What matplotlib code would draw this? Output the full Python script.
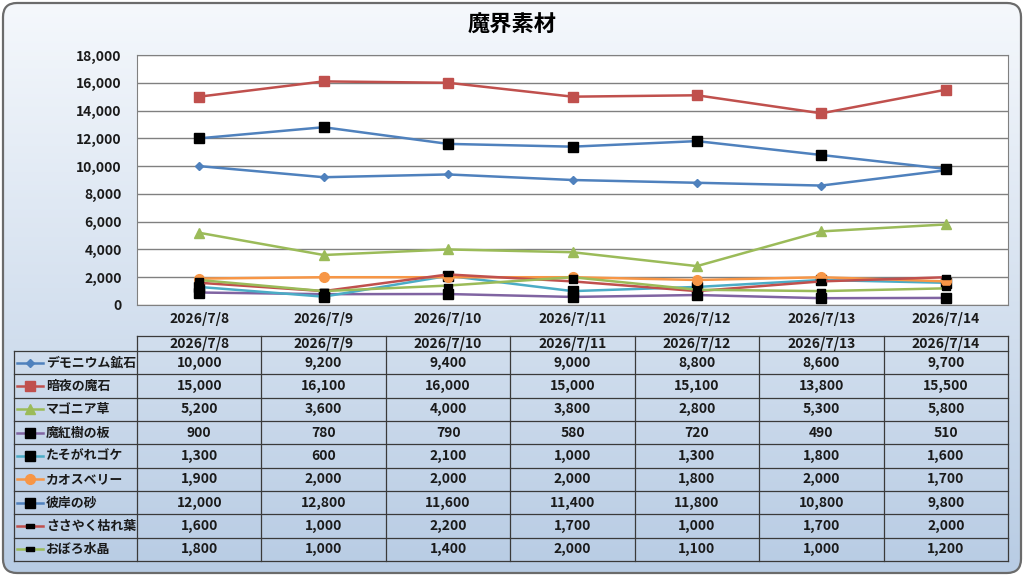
import numpy as np
import matplotlib
matplotlib.use('Agg')
from matplotlib import pyplot as plt
from matplotlib.patches import FancyBboxPatch
from matplotlib.path import Path

plt.rcParams['font.family'] = ['Noto Sans CJK JP', 'DejaVu Sans']

dates = ['2026/7/8', '2026/7/9', '2026/7/10', '2026/7/11', '2026/7/12', '2026/7/13', '2026/7/14']

names = ['デモニウム鉱石', '暗夜の魔石', 'マゴニア草', '魔紅樹の板', 'たそがれゴケ',
         'カオスベリー', '彼岸の砂', 'ささやく枯れ葉', 'おぼろ水晶']

demonium = [10000, 9200, 9400, 9000, 8800, 8600, 9700]
anya = [15000, 16100, 16000, 15000, 15100, 13800, 15500]
magonia = [5200, 3600, 4000, 3800, 2800, 5300, 5800]
makouju = [900, 780, 790, 580, 720, 490, 510]
tasogare = [1300, 600, 2100, 1000, 1300, 1800, 1600]
chaos = [1900, 2000, 2000, 2000, 1800, 2000, 1700]
higan = [12000, 12800, 11600, 11400, 11800, 10800, 9800]
sasayaku = [1600, 1000, 2200, 1700, 1000, 1700, 2000]
oboro = [1800, 1000, 1400, 2000, 1100, 1000, 1200]

series = [demonium, anya, magonia, makouju, tasogare, chaos, higan, sasayaku, oboro]

blue, red, green, purple, cyan, orange = '#4F81BD', '#C0504D', '#9BBB59', '#8064A2', '#4BACC6', '#F79646'
dash = Path([(-1, -0.45), (1, -0.45), (1, 0.45), (-1, 0.45), (-1, -0.45)])
# (line colour, marker, marker face colour, marker size)
styles = [
    (blue, 'D', blue, 4.5),
    (red, 's', red, 6.5),
    (green, '^', green, 7),
    (purple, 's', 'black', 6.5),
    (cyan, 's', 'black', 6.5),
    (orange, 'o', orange, 7),
    (blue, 's', 'black', 6.5),
    (red, dash, 'black', 5.5),
    (green, dash, 'black', 5.5),
]

W, H = 1024, 576
fig = plt.figure(figsize=(W / 100, H / 100), dpi=100)

# background with gradient and rounded frame
bg = fig.add_axes([0, 0, 1, 1], zorder=0)
bg.set_xlim(0, W)
bg.set_ylim(H, 0)
bg.axis('off')
grad = np.linspace(0, 1, 256)[:, None]
top = np.array([245, 248, 252]) / 255
bot = np.array([184, 204, 228]) / 255
img = top + (bot - top) * grad[..., None]
frame = FancyBboxPatch((3, 3), W - 6, H - 6, boxstyle='round,pad=0,rounding_size=14',
                       fc='none', ec='#6b6b6b', lw=1.6, zorder=3)
bg.add_patch(frame)
im = bg.imshow(img, extent=[3, W - 3, H - 3, 3], aspect='auto', zorder=1)
im.set_clip_path(frame)

fig.text(0.5, 1 - 25 / H, '魔界素材', ha='center', va='center', fontsize=16, fontweight='bold')

# chart
left, right, ptop, pbot = 137, 1008, 55, 305
ax = fig.add_axes([left / W, 1 - pbot / H, (right - left) / W, (pbot - ptop) / H], zorder=2)
ax.set_facecolor('white')
x = np.arange(len(dates))
for vals, (lc, mk, mfc, ms) in zip(series, styles):
    ax.plot(x, vals, color=lc, lw=1.8, marker=mk, ms=ms, mfc=mfc, mec=mfc)
ax.set_xlim(-0.5, len(dates) - 0.5)
ax.set_ylim(0, 18000)
ax.set_yticks(np.arange(0, 18001, 2000))
ax.set_yticklabels(['{:,}'.format(v) for v in range(0, 18001, 2000)])
ax.set_xticks(x)
ax.set_xticklabels(dates)
ax.tick_params(length=0, labelsize=10)
ax.tick_params(axis='y', pad=11)
ax.tick_params(axis='x', pad=5)
for t in ax.get_xticklabels() + ax.get_yticklabels():
    t.set_fontweight('bold')
    t.set_color('#1a1a1a')
ax.grid(axis='y', color='#808080', lw=1)
ax.set_axisbelow(True)
for s in ax.spines.values():
    s.set_color('#808080')

# data table
tl, tr = 14, right
hdr_top, row_top, tbot = 336, 351, 561
colw = (right - left) / len(dates)
rowh = (tbot - row_top) / len(names)
lc_tab = '#3a3a3a'
bg.plot([left, tr], [hdr_top, hdr_top], color=lc_tab, lw=0.9, zorder=4)
for i in range(len(dates) + 1):
    xx = left + i * colw
    bg.plot([xx, xx], [hdr_top, tbot], color=lc_tab, lw=0.9, zorder=4)
bg.plot([tl, tl], [row_top, tbot], color=lc_tab, lw=0.9, zorder=4)
for j in range(len(names) + 1):
    yy = row_top + j * rowh
    bg.plot([tl, tr], [yy, yy], color=lc_tab, lw=0.9, zorder=4)
for i, d in enumerate(dates):
    bg.text(left + (i + 0.5) * colw, (hdr_top + row_top) / 2 + 0.5, d, ha='center', va='center',
            fontsize=10, fontweight='bold', color='#1a1a1a', zorder=5)
for j, (nm, vals, (lc, mk, mfc, ms)) in enumerate(zip(names, series, styles)):
    yc = row_top + (j + 0.5) * rowh
    bg.plot([17, 43], [yc, yc], color=lc, lw=1.8, zorder=5)
    bg.plot([30], [yc], marker=mk, ms=ms, mfc=mfc, mec=mfc, zorder=6)
    bg.text(46, yc, nm, ha='left', va='center', fontsize=9.3, fontweight='bold',
            color='#1a1a1a', zorder=5)
    for i, v in enumerate(vals):
        bg.text(left + (i + 0.5) * colw, yc, '{:,}'.format(v), ha='center', va='center',
                fontsize=10, fontweight='bold', color='#1a1a1a', zorder=5)

fig.savefig('out.png', dpi=100)
